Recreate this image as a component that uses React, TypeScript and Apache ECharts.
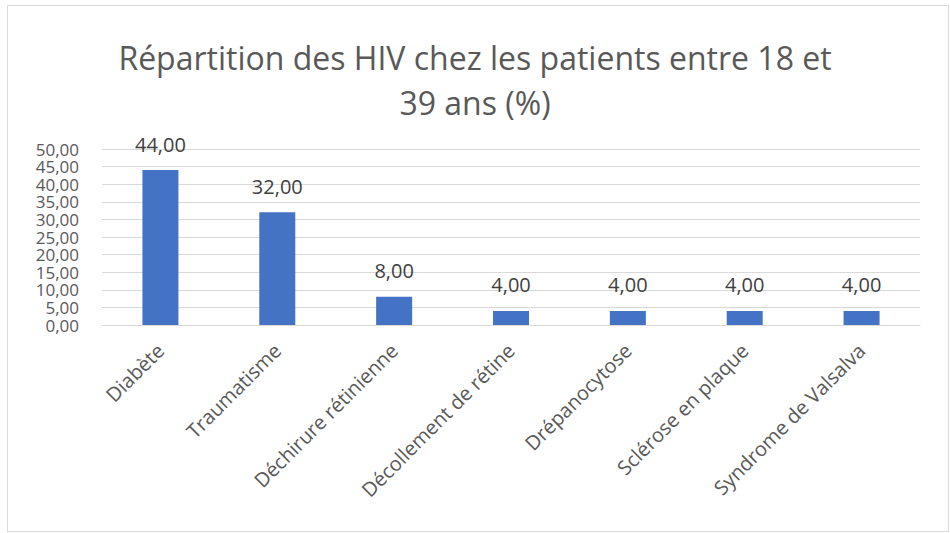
import React, { useEffect, useRef } from "react";
import * as echarts from "echarts";

const categories = [
  "Diabète",
  "Traumatisme",
  "Déchirure rétinienne",
  "Décollement de rétine",
  "Drépanocytose",
  "Sclérose en plaque",
  "Syndrome de Valsalva",
];
const values = [44, 32, 8, 4, 4, 4, 4];
const titleText = "Répartition des HIV chez les patients entre 18 et\n39 ans (%)";

const fmt = (v: number) => v.toFixed(2).replace(".", ",");
const FONT = "'Open Sans', 'Liberation Sans', sans-serif";

export default function App() {
  const ref = useRef<HTMLDivElement>(null);
  useEffect(() => {
    document.body.style.margin = "0";
    const chart = echarts.init(ref.current!, null, { renderer: "svg" });
    chart.setOption({
      animation: false,
      backgroundColor: "#ffffff",
      title: {
        text: titleText,
        left: "center",
        top: 30,
        textStyle: {
          fontFamily: FONT,
          fontSize: 32,
          fontWeight: "normal",
          color: "#595959",
          lineHeight: 45,
        },
      },
      graphic: [
        {
          type: "rect",
          shape: { x: 7.5, y: 5.5, width: 941, height: 526 },
          style: { fill: "none", stroke: "#d9d9d9", lineWidth: 1 },
          silent: true,
        },
      ],
      grid: { left: 102, right: 30, top: 149, bottom: 208 },
      xAxis: {
        type: "category",
        data: categories,
        axisTick: { show: false },
        axisLine: { lineStyle: { color: "#d9d9d9", width: 1 } },
        axisLabel: {
          rotate: 45,
          interval: 0,
          margin: 22,
          fontFamily: FONT,
          fontSize: 20,
          color: "#595959",
        },
      },
      yAxis: {
        type: "value",
        min: 0,
        max: 50,
        interval: 5,
        axisLine: { show: false },
        axisTick: { show: false },
        splitLine: { lineStyle: { color: "#d9d9d9", width: 1 } },
        axisLabel: {
          formatter: (v: number) => fmt(v),
          margin: 23,
          showMinLabel: true,
          showMaxLabel: true,
          hideOverlap: false,
          fontFamily: FONT,
          fontSize: 17,
          lineHeight: 17,
          color: "#595959",
        },
      },
      series: [
        {
          type: "bar",
          data: values,
          barWidth: 36,
          itemStyle: { color: "#4472c4" },
          label: {
            show: true,
            position: "top",
            distance: 16,
            formatter: (p: any) => fmt(p.value),
            fontFamily: FONT,
            fontSize: 20,
            color: "#404040",
          },
        },
      ],
    });
    return () => chart.dispose();
  }, []);
  return (
    <div
      ref={ref}
      style={{ position: "absolute", left: 0, top: 0, width: 950, height: 533 }}
    />
  );
}
